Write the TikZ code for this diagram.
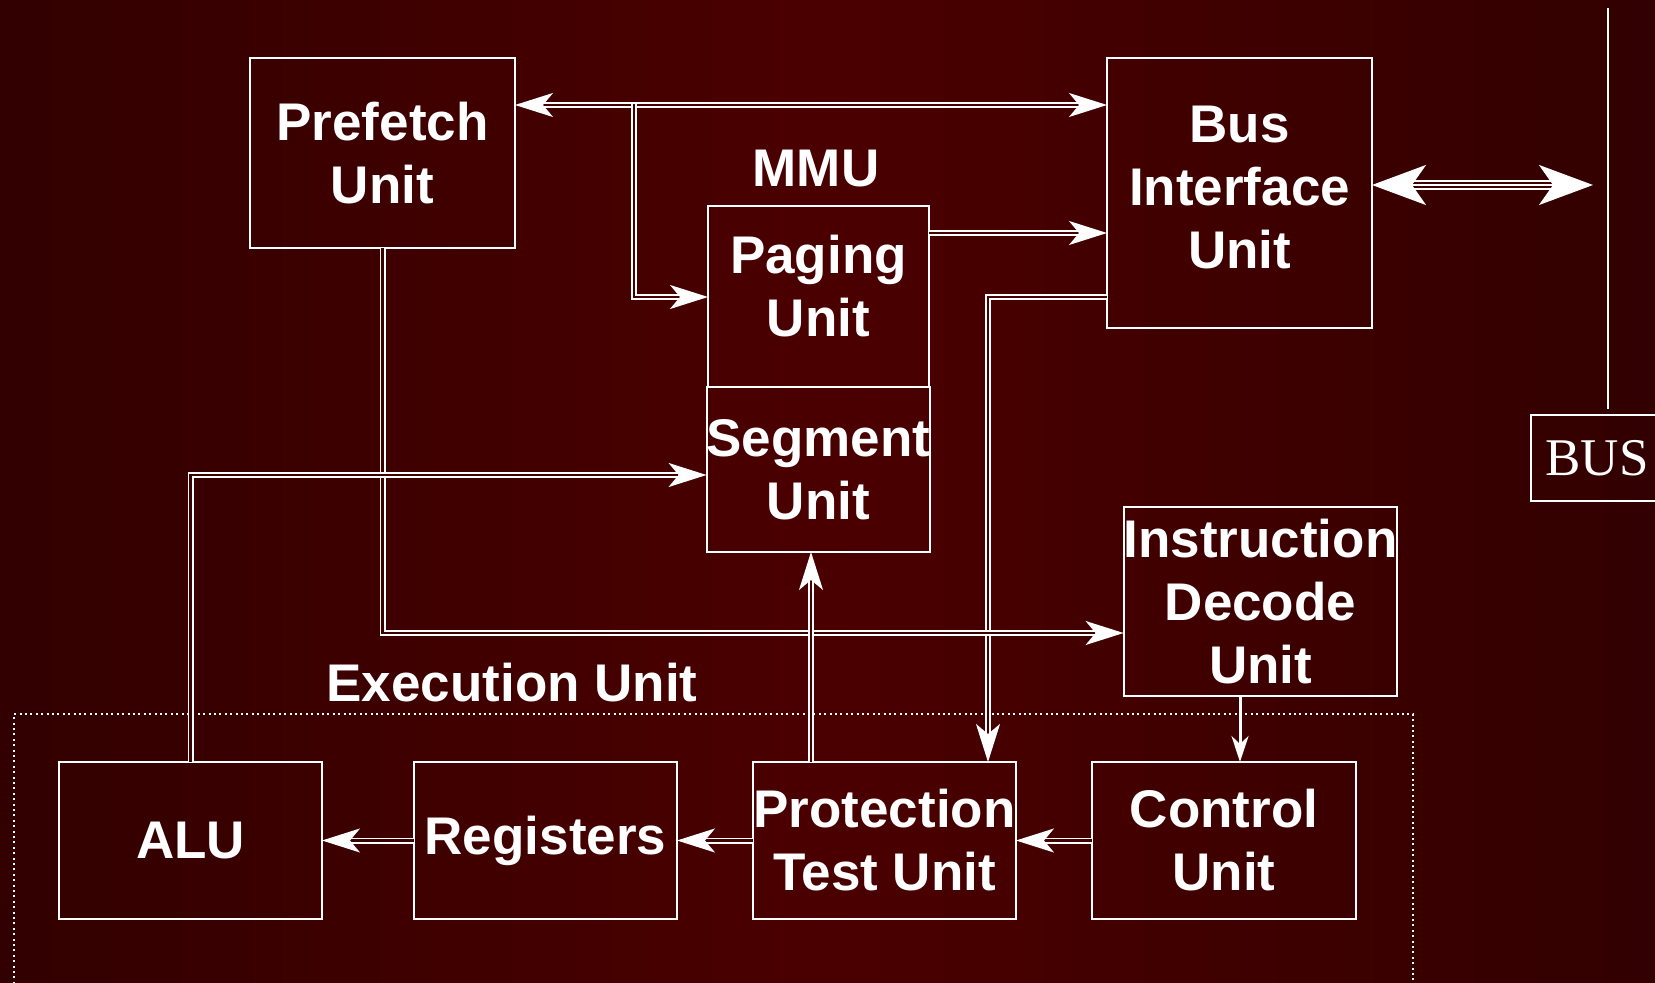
\documentclass[tikz,border=0pt]{standalone}
\usepackage{fontspec}
\setmainfont{Liberation Sans}
\newfontfamily\busfont{Liberation Serif}
\usetikzlibrary{arrows.meta}
\definecolor{c320000}{RGB}{50,0,0}
\definecolor{c3c0000}{RGB}{60,0,0}
\definecolor{c460000}{RGB}{70,0,0}
\definecolor{c4b0000}{RGB}{75,0,0}
\pgfdeclarehorizontalshading{bgshade}{100bp}{color(0bp)=(c320000); color(25bp)=(c320000);
  color(50bp)=(c4b0000); color(75bp)=(c320000); color(100bp)=(c320000)}

\begin{document}
\begin{tikzpicture}[y=0.5pt, x=0.5pt, yscale=-1, inner sep=0pt, outer sep=0pt,
  unit/.style={draw=white, line width=1pt, text=white, align=center,
    font=\fontsize{26.5}{31.5}\selectfont\bfseries},
  tag/.style={text=white, font=\fontsize{26.5}{31.5}\selectfont\bfseries},
  link/.style={draw=white, line width=0.9pt, double=c460000, double distance=1.2pt},
  onehead/.style={-{Stealth[length=19pt, width=12pt, inset=5pt]}},
  twohead/.style={{Stealth[length=19pt, width=12pt, inset=5pt]}-{Stealth[length=19pt, width=12pt, inset=5pt]}},
  bighead/.style={{Stealth[length=27pt, width=20pt, inset=7pt]}-{Stealth[length=27pt, width=20pt, inset=7pt]}}]
  \useasboundingbox (0,0) rectangle (1655,983);
  \clip (0,0) rectangle (1655,983);
  \shade[shading=bgshade] (0,0) rectangle (1655,983);

  % units
  \node[unit, minimum width=132.5pt, minimum height=95pt] (prefetch) at (382.5,153) {Prefetch\\Unit};
  \node[unit, minimum width=132.5pt, minimum height=135pt, text depth=6pt] (biu) at (1239.5,193) {Bus\\Interface\\Unit};
  \node[tag] (mmu) at (816,169) {MMU};
  \node[unit, minimum width=110.5pt, minimum height=90.5pt, text depth=11pt] (paging) at (818.5,296.5) {Paging\\Unit};
  \node[unit, minimum width=110.5pt, minimum height=82.5pt] (segment) at (818.5,469.5) {Segment\\Unit};
  \node[unit, minimum width=135.5pt, minimum height=94.5pt] (idu) at (1260.5,601.5) {Instruction\\Decode\\Unit};
  \node[tag] (exec) at (512,683) {Execution Unit};
  \node[unit, minimum width=131.5pt, minimum height=78.5pt] (alu) at (190.5,840.5) {ALU};
  \node[unit, minimum width=131.5pt, minimum height=78.5pt] (registers) at (545.5,840.5) {Registers};
  \node[unit, minimum width=131.5pt, minimum height=78.5pt] (ptu) at (884.5,840.5) {Protection\\Test Unit};
  \node[unit, minimum width=132pt, minimum height=78.5pt] (control) at (1224,840.5) {Control\\Unit};
  \node[draw=white, line width=1pt, text=white, minimum width=66pt, minimum height=43pt,
    font=\busfont\fontsize{26.5}{30}\selectfont] (bus) at (1597,458) {BUS};

  % execution unit frame
  \draw[white, line width=1pt, dash pattern=on 1pt off 1.7pt]
    (14,1000) -- (14,714) -- (1413,714) -- (1413,1000);

  % bus
  \coordinate (bus-top) at (1608,8);
  \coordinate (bus-end) at (1608,409);
  \coordinate (bus-tap) at (1593,185);
  \draw[white, line width=1pt] (bus-top) -- (bus-end);
  \draw[draw=white, line width=1pt, double=c3c0000, double distance=3pt, bighead]
    (biu.east |- 0,185) -- (bus-tap);
  \draw[white, line width=1pt, shorten <=10pt, shorten >=10pt] (biu.east |- 0,185) -- (bus-tap);

  % links
  \coordinate (tap-pf) at (634,104);
  \draw[link, twohead] (prefetch.east |- 0,105) -- (biu.west |- 0,105);
  \draw[link, onehead] (tap-pf) |- (paging.west |- 0,297);
  \draw[link, onehead] (paging.east |- 0,233) -- (biu.west |- 0,233);
  \draw[link, onehead] (biu.west |- 0,297) -| (ptu.north -| 988,0);
  \draw[link, onehead, double=c3c0000] (prefetch.south) |- (idu.west |- 0,633);
  \draw[link, onehead, double=c3c0000] (alu.north) |- (segment.west |- 0,475);
  \draw[link, onehead] (ptu.north -| 811,0) -- (segment.south -| 811,0);
  \draw[white, line width=1.5pt, -{Stealth[length=13pt, width=8.5pt, inset=4pt]}]
    (idu.south -| 1240,0) -- (control.north -| 1240,0);
  \draw[link, onehead] (control.west) -- (ptu.east);
  \draw[link, onehead] (ptu.west) -- (registers.east);
  \draw[link, onehead, double=c3c0000] (registers.west) -- (alu.east);

\end{tikzpicture}
\end{document}
